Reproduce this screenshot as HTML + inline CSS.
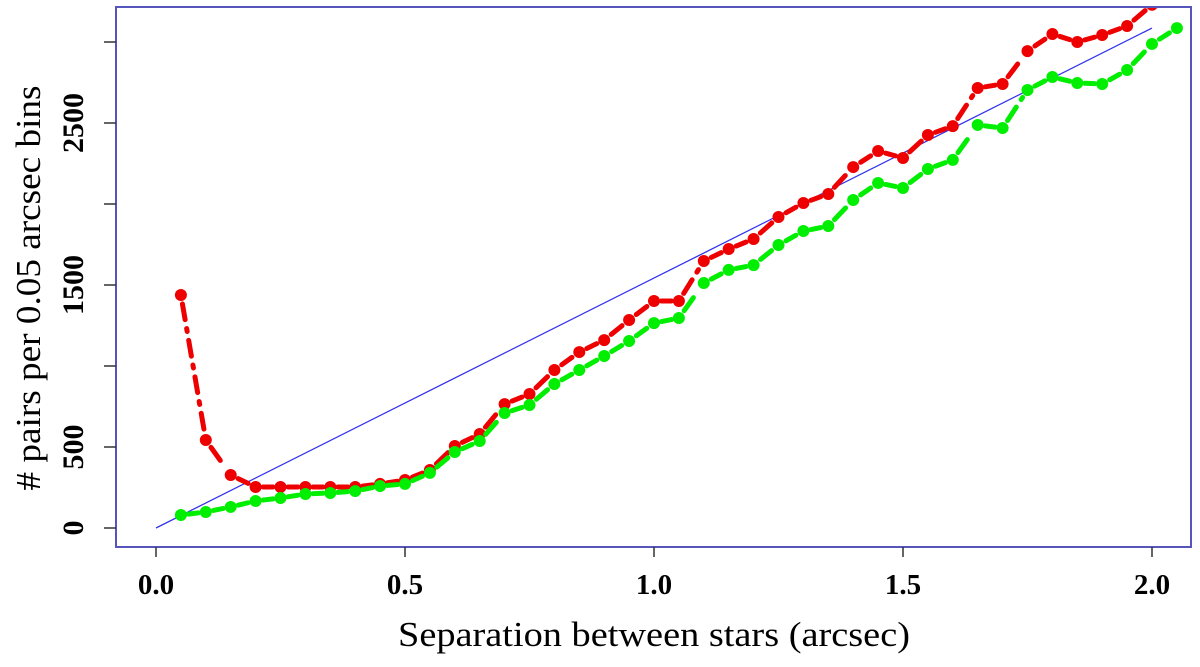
<!DOCTYPE html>
<html><head><meta charset="utf-8"><style>
body{margin:0;background:#fff}
svg text{font-family:"Liberation Serif",serif;fill:#000}
</style></head><body>
<svg width="1200" height="662" viewBox="0 0 1200 662" xmlns="http://www.w3.org/2000/svg">
<defs><clipPath id="pc"><rect x="116" y="7" width="1075" height="540"/></clipPath></defs>
<g id="plot" clip-path="url(#pc)"></g>
<rect x="116" y="7" width="1075" height="540" fill="none" stroke="#5555bb" stroke-width="2"/>
<g id="axes"></g>
<text x="654" y="646" font-size="35" text-anchor="middle" textLength="512" lengthAdjust="spacingAndGlyphs">Separation between stars (arcsec)</text>
<text transform="translate(40,288) rotate(-90)" font-size="35" text-anchor="middle" textLength="405" lengthAdjust="spacingAndGlyphs"># pairs per 0.05 arcsec bins</text>
</svg>
<script>
const xs = [0.05,0.1,0.15,0.2,0.25,0.3,0.35,0.4,0.45,0.5,0.55,0.6,0.65,0.7,0.75,0.8,0.85,0.9,0.95,1.0,1.05,1.1,1.15,1.2,1.25,1.3,1.35,1.4,1.45,1.5,1.55,1.6,1.65,1.7,1.75,1.8,1.85,1.9,1.95,2.0,2.05];
const redVals = [1438,543,327,253,253,253,253,253,272,296,358,506,580,765,827,975,1086,1160,1284,1401,1401,1648,1722,1784,1920,2006,2062,2228,2327,2284,2426,2481,2716,2741,2944,3049,3000,3043,3099,3230,3420];
const greenVals = [80,99,130,167,185,210,216,228,259,272,340,469,537,710,759,889,975,1062,1154,1265,1296,1512,1593,1623,1747,1833,1864,2025,2130,2099,2216,2272,2488,2469,2704,2784,2747,2741,2827,2988,3086];
const fitX = [0,2.0];
const fitVals = [0,3086];
const xTicks = [0,0.5,1.0,1.5,2.0];
const xTickLabels = ["0.0","0.5","1.0","1.5","2.0"];
const yTicks = [0,500,1000,1500,2000,2500,3000];
const yTickLabels = ["0","500","","1500","","2500",""];

const X = v => 156 + v*498;
const Y = v => 528 - v*0.162;
const NS = "http://www.w3.org/2000/svg";
const plot = document.getElementById('plot');
const axes = document.getElementById('axes');
function mk(tag, attrs, parent){const e=document.createElementNS(NS,tag);for(const k in attrs)e.setAttribute(k,attrs[k]);parent.appendChild(e);return e;}

const fit = mk('line',{x1:X(fitX[0]),y1:Y(fitVals[0]),x2:X(fitX[1]),y2:Y(fitVals[1]),stroke:'#3333ee','stroke-width':1.3},plot);



function series(vals,color,name){
  const g = mk('g',{},plot);
  
  
  for(let i=0;i<vals.length-1;i++){
    const x1=X(xs[i]),y1=Y(vals[i]),x2=X(xs[i+1]),y2=Y(vals[i+1]);
    const dx=x2-x1,dy=y2-y1,L=Math.hypot(dx,dy),s=Math.min(9,L*0.3)/L;
    const seg = mk('line',{x1:x1+dx*s,y1:y1+dy*s,x2:x2-dx*s,y2:y2-dy*s,stroke:color,'stroke-width':5,'stroke-dasharray':'16 9 3 9','stroke-linecap':'round'},g);
    
    
  }
  vals.forEach((v,i)=>{
    const c = mk('circle',{cx:X(xs[i]),cy:Y(v),r:6,fill:color},g);
    
    
  });
}
series(redVals,'#ee0000','red-series');
series(greenVals,'#00ee00','green-series');

xTicks.forEach((t,i)=>{
  const l = mk('line',{x1:X(t),y1:547,x2:X(t),y2:557,stroke:'#333','stroke-width':1.5},axes);
  
  
  const tx = mk('text',{x:X(t),y:594,'font-size':29,'font-weight':'bold','text-anchor':'middle'},axes);
  tx.textContent = xTickLabels[i];
  
  
});
yTicks.forEach((t,i)=>{
  const l = mk('line',{x1:104,y1:Y(t),x2:116,y2:Y(t),stroke:'#333','stroke-width':1.5},axes);
  
  
  if(yTickLabels[i]){
    const tx = mk('text',{transform:`translate(83,${Y(t)}) rotate(-90)`,'font-size':30,'font-weight':'bold','text-anchor':'middle'},axes);
    tx.textContent = yTickLabels[i];
    
    
  }
});
</script>
</body></html>
